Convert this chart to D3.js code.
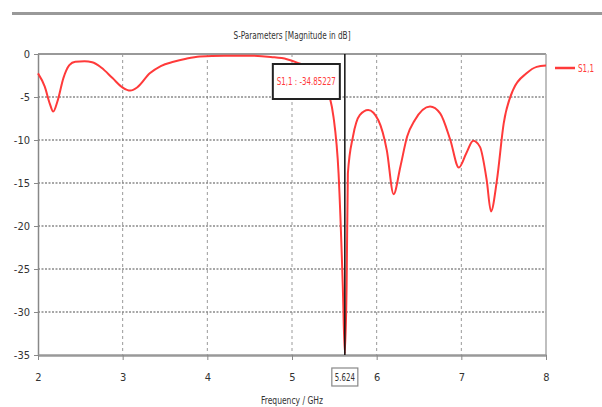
<!DOCTYPE html>
<html>
<head>
<meta charset="utf-8">
<script src="https://cdn.jsdelivr.net/npm/d3@7"></script>
<style>
    body { margin: 0; background: #fff; }
    text { font-family: "Liberation Sans Narrow", "DejaVu Sans Condensed", sans-serif; font-stretch: condensed; }
</style>
</head>
<body>
<div id="vis"></div>
<script>
// S11 curve
const freq = [2.0, 2.08, 2.14, 2.18, 2.23, 2.3, 2.37, 2.44, 2.55, 2.64, 2.75, 2.88, 3.0, 3.09, 3.17,
    3.32, 3.45, 3.6, 3.75, 3.91, 4.2, 4.5, 4.75, 4.94, 5.06, 5.2, 5.3, 5.4, 5.45, 5.49, 5.55, 5.6,
    5.624, 5.645, 5.66, 5.72, 5.8, 5.9, 6.02, 6.12, 6.2, 6.28, 6.36, 6.45, 6.63, 6.75, 6.87, 6.97,
    7.06, 7.14, 7.22, 7.3, 7.35, 7.42, 7.5, 7.61, 7.77, 7.89, 8.0]
const s11 = [-2.25, -3.8, -5.8, -6.7, -5.5, -2.8, -1.3, -0.9, -0.85, -0.95, -1.6, -2.8, -3.9, -4.25, -3.9,
    -2.25, -1.4, -0.9, -0.55, -0.3, -0.2, -0.2, -0.35, -0.6, -1.0, -1.6, -2.6, -4.2, -5.2, -7.3, -13.9, -27,
    -34.85, -27, -13.9, -9.6, -7.1, -6.5, -7.7, -11.2, -16.3, -13.1, -9.6, -7.7, -6.1, -6.9, -10, -13.2,
    -11.5, -10.1, -10.8, -14.7, -18.3, -14.7, -8.1, -4.2, -2.25, -1.5, -1.35]

const xTicks = [2, 3, 4, 5, 6, 7, 8]
const yTicks = [0, -5, -10, -15, -20, -25, -30, -35]
const markerFreq = 5.624
const markerValue = -34.85227
const seriesName = 'S1,1'

////////////////////////////////////////
////////////// Setup ///////////////////
////////////////////////////////////////

const W = 602, H = 407
const margin = { top: 54, right: 56, bottom: 52, left: 38 }
const width = W - margin.left - margin.right
const height = H - margin.top - margin.bottom
const red = '#ff3a3a'

const svg = d3.select('#vis').append('svg')
    .attr('width', W)
    .attr('height', H)

// grey bar across the top
svg.append('rect')
    .attr('x', 12).attr('y', 12)
    .attr('width', W - 12).attr('height', 3)
    .attr('fill', '#999')

svg.append('text')
    .attr('x', margin.left + width / 2)
    .attr('y', 39)
    .attr('text-anchor', 'middle')
    .attr('font-size', 11)
    .attr('fill', '#333')
    .attr('textLength', 117)
    .attr('lengthAdjust', 'spacingAndGlyphs')
    .text('S-Parameters [Magnitude in dB]')

const g = svg.append('g')
    .attr('transform', `translate(${margin.left},${margin.top})`)

////////////////////////////////////////
////////////// Scales //////////////////
////////////////////////////////////////

const x = d3.scaleLinear().domain([2, 8]).range([0, width])
const y = d3.scaleLinear().domain([-35, 0]).range([height, 0])

////////////////////////////////////////
////////////// Grid ////////////////////
////////////////////////////////////////

g.selectAll('.vgrid')
    .data(xTicks.slice(1, -1))
    .join('line')
    .attr('x1', d => x(d)).attr('x2', d => x(d))
    .attr('y1', 0).attr('y2', height)
    .attr('stroke', '#9a9a9a')
    .attr('stroke-dasharray', '3,3')

g.selectAll('.hgrid')
    .data(yTicks.slice(1, -1))
    .join('line')
    .attr('x1', 0).attr('x2', width)
    .attr('y1', d => y(d)).attr('y2', d => y(d))
    .attr('stroke', '#8a8a8a')
    .attr('stroke-width', 1.3)
    .attr('stroke-dasharray', '2,1.5')

// frame
g.append('line').attr('x1', 0).attr('x2', width).attr('y1', 0).attr('y2', 0)
    .attr('stroke', '#999').attr('stroke-width', 2)
g.append('line').attr('x1', width).attr('x2', width).attr('y1', 0).attr('y2', height)
    .attr('stroke', '#aaa').attr('stroke-width', 1.5)

////////////////////////////////////////
////////////// Axes ////////////////////
////////////////////////////////////////

const yAxis = g.append('g')
    .call(d3.axisLeft(y).tickValues(yTicks).tickSize(4).tickSizeOuter(0).tickFormat(d => String(d)))
yAxis.select('.domain').attr('stroke', '#888').attr('stroke-width', 1.5)
yAxis.selectAll('line').attr('stroke', '#888')
yAxis.selectAll('text').attr('font-size', 11).attr('fill', '#333').attr('dx', -1)

const xAxis = g.append('g')
    .attr('transform', `translate(0,${height})`)
    .call(d3.axisBottom(x).tickValues(xTicks).tickSize(5).tickSizeOuter(0).tickFormat(d => String(d)))
xAxis.select('.domain').attr('stroke', '#999').attr('stroke-width', 2.5)
xAxis.selectAll('line').attr('stroke', '#888')
xAxis.selectAll('text').attr('font-size', 11).attr('fill', '#333').attr('dy', '1.65em')

svg.append('text')
    .attr('x', margin.left + width / 2)
    .attr('y', 404)
    .attr('text-anchor', 'middle')
    .attr('font-size', 11)
    .attr('fill', '#333')
    .attr('textLength', 62)
    .attr('lengthAdjust', 'spacingAndGlyphs')
    .text('Frequency / GHz')

////////////////////////////////////////
////////////// Curve ///////////////////
////////////////////////////////////////

const data = freq.map((f, i) => ({ f: f, v: s11[i] }))

const line = d3.line()
    .x(d => x(d.f))
    .y(d => y(d.v))
    .curve(d3.curveMonotoneX)

g.append('path')
    .datum(data)
    .attr('d', line)
    .attr('fill', 'none')
    .attr('stroke', red)
    .attr('stroke-width', 2)

////////////////////////////////////////
////////////// Marker //////////////////
////////////////////////////////////////

const mx = x(markerFreq)

g.append('line')
    .attr('x1', mx).attr('x2', mx)
    .attr('y1', 0).attr('y2', height)
    .attr('stroke', '#111')
    .attr('stroke-width', 1.5)

// value label box
const box = g.append('g').attr('transform', `translate(${mx - 72},${10})`)
box.append('rect')
    .attr('width', 67).attr('height', 35)
    .attr('fill', '#fff')
    .attr('stroke', '#222')
    .attr('stroke-width', 2)
box.append('text')
    .attr('x', 33.5).attr('y', 21)
    .attr('text-anchor', 'middle')
    .attr('font-size', 11)
    .attr('fill', red)
    .attr('textLength', 59)
    .attr('lengthAdjust', 'spacingAndGlyphs')
    .text(`${seriesName} : ${markerValue}`)

// frequency label under the axis
const fb = g.append('g').attr('transform', `translate(${mx},${height + 13})`)
fb.append('rect')
    .attr('x', -13).attr('width', 26).attr('height', 18)
    .attr('fill', '#fff')
    .attr('stroke', '#888')
    .attr('stroke-width', 1.2)
fb.append('text')
    .attr('y', 13)
    .attr('text-anchor', 'middle')
    .attr('font-size', 11)
    .attr('fill', '#333')
    .attr('textLength', 20)
    .attr('lengthAdjust', 'spacingAndGlyphs')
    .text(markerFreq)

////////////////////////////////////////
////////////// Legend //////////////////
////////////////////////////////////////

svg.append('line')
    .attr('x1', 555).attr('x2', 575)
    .attr('y1', 68).attr('y2', 68)
    .attr('stroke', red)
    .attr('stroke-width', 2.5)

svg.append('text')
    .attr('x', 578).attr('y', 72)
    .attr('font-size', 11)
    .attr('fill', red)
    .attr('textLength', 16)
    .attr('lengthAdjust', 'spacingAndGlyphs')
    .text(seriesName)
</script>
</body>
</html>
